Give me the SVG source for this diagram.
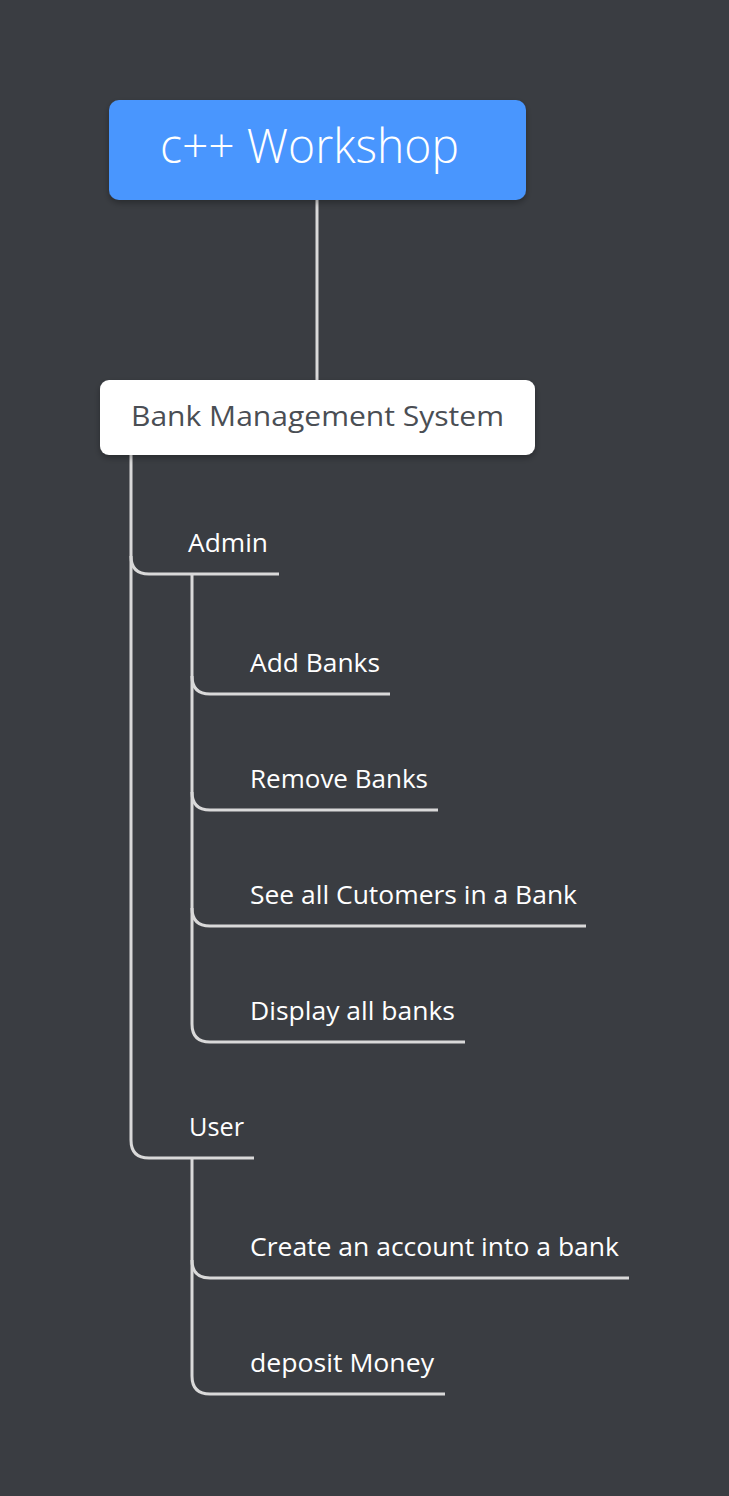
<svg xmlns="http://www.w3.org/2000/svg" width="729" height="1496" viewBox="0 0 729 1496">
<defs>
<style>
.c{fill:none;stroke:#d9d9d9;stroke-width:3;stroke-linecap:butt}
.t{font-family:"Segoe UI","Open Sans","Liberation Sans",sans-serif;fill:#ffffff;font-size:25px}
</style>
<filter id="sh" x="-10%" y="-20%" width="120%" height="150%">
<feDropShadow dx="0" dy="3" stdDeviation="3" flood-color="#000" flood-opacity="0.3"/>
</filter>
</defs>
<rect width="729" height="1496" fill="#3a3d42"/>
<g id="connectors">
<path class="c" d="M317,200 V380"/>
<path class="c" d="M131,455 V556 Q131,574 149,574 H279"/>
<path class="c" d="M131,556 V1140 Q131,1158 149,1158 H254"/>
<path class="c" d="M192,574 V676 Q192,694 210,694 H390"/>
<path class="c" d="M192,676 V792 Q192,810 210,810 H438"/>
<path class="c" d="M192,792 V908 Q192,926 210,926 H586"/>
<path class="c" d="M192,908 V1024 Q192,1042 210,1042 H465"/>
<path class="c" d="M192,1158 V1260 Q192,1278 210,1278 H629"/>
<path class="c" d="M192,1260 V1376 Q192,1394 210,1394 H445"/>
</g>
<g id="root">
<rect x="109" y="100" width="417" height="100" rx="10" fill="#4896fe" filter="url(#sh)"/>
<text x="160" y="163" font-family="'Segoe UI','Open Sans','Liberation Sans',sans-serif" font-weight="300" font-size="47" fill="#ffffff" textLength="299" lengthAdjust="spacingAndGlyphs">c++ Workshop</text>
</g>
<g id="bms">
<rect x="100" y="380" width="435" height="75" rx="9" fill="#ffffff" filter="url(#sh)"/>
<text x="131" y="426" font-family="'Segoe UI','Open Sans','Liberation Sans',sans-serif" font-size="28" fill="#4a4e54" textLength="373" lengthAdjust="spacingAndGlyphs">Bank Management System</text>
</g>
<g id="admin"><text class="t" x="188" y="552" textLength="80" lengthAdjust="spacingAndGlyphs">Admin</text></g>
<g id="add-banks"><text class="t" x="250" y="672" textLength="130" lengthAdjust="spacingAndGlyphs">Add Banks</text></g>
<g id="remove-banks"><text class="t" x="250" y="788" textLength="178" lengthAdjust="spacingAndGlyphs">Remove Banks</text></g>
<g id="see-all"><text class="t" x="250" y="904" textLength="327" lengthAdjust="spacingAndGlyphs">See all Cutomers in a Bank</text></g>
<g id="display-all"><text class="t" x="250" y="1020" textLength="205" lengthAdjust="spacingAndGlyphs">Display all banks</text></g>
<g id="user"><text class="t" x="189" y="1136" textLength="55" lengthAdjust="spacingAndGlyphs">User</text></g>
<g id="create-account"><text class="t" x="250" y="1256" textLength="369" lengthAdjust="spacingAndGlyphs">Create an account into a bank</text></g>
<g id="deposit"><text class="t" x="250" y="1372" textLength="184" lengthAdjust="spacingAndGlyphs">deposit Money</text></g>
</svg>
